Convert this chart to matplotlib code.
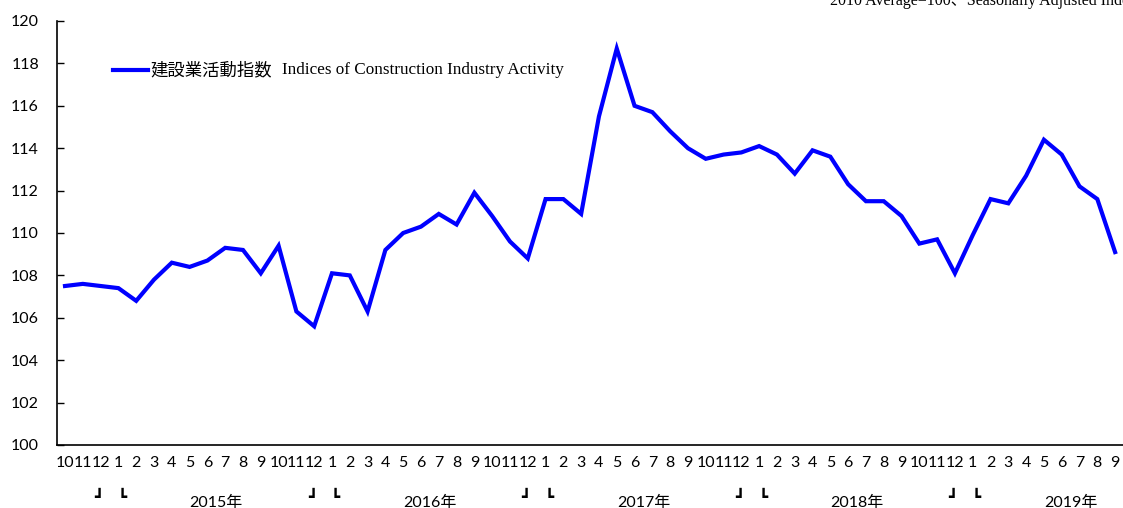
import matplotlib
matplotlib.use("Agg")
import matplotlib.pyplot as plt
from matplotlib.lines import Line2D

values = [107.5, 107.6, 107.5,
          107.4, 106.8, 107.8, 108.6, 108.4, 108.7, 109.3, 109.2, 108.1, 109.4, 106.3, 105.6,
          108.1, 108.0, 106.3, 109.2, 110.0, 110.3, 110.9, 110.4, 111.9, 110.8, 109.6, 108.8,
          111.6, 111.6, 110.9, 115.5, 118.7, 116.0, 115.7, 114.8, 114.0, 113.5, 113.7, 113.8,
          114.1, 113.7, 112.8, 113.9, 113.6, 112.3, 111.5, 111.5, 110.8, 109.5, 109.7, 108.1,
          109.9, 111.6, 111.4, 112.7, 114.4, 113.7, 112.2, 111.6, 109.1]
month_labels = ["10", "11", "12"] + [str(m) for m in range(1, 13)] * 4 + [str(m) for m in range(1, 10)]
years = ["2015年", "2016年", "2017年", "2018年", "2019年"]
legend_jp = "建設業活動指数"
legend_en = "Indices of Construction Industry Activity"
note = "2010 Average=100、Seasonally Adjusted Index"

W, H = 1123, 508
fig = plt.figure(figsize=(W / 100, H / 100), dpi=100)
left, right, top, bottom = 57, 1124, 21, 445
ax = fig.add_axes([left / W, 1 - bottom / H, (right - left) / W, (bottom - top) / H])

x = list(range(len(values)))
ax.plot(x, values, color="#0000FF", lw=3.0, solid_joinstyle="miter")
ax.set_xlim(-0.45, 59.5)
ax.set_ylim(100, 120)
ax.set_yticks(range(100, 121, 2))
ax.set_xticks(x)
ax.set_xticklabels(month_labels)
sans = ["Lato", "Noto Sans CJK JP", "DejaVu Sans"]
for lab in ax.get_xticklabels() + ax.get_yticklabels():
    lab.set_family(sans)
    lab.set_fontsize(11.5)
ax.tick_params(axis="y", direction="in", length=5, width=1, pad=13)
ax.tick_params(axis="x", length=0, pad=8)
for s in ["top", "right"]:
    ax.spines[s].set_visible(False)
for s in ["left", "bottom"]:
    ax.spines[s].set_linewidth(1.2)

# year labels and brackets
trans = ax.get_xaxis_transform()
ybr = -0.124
for i, yr in enumerate(years):
    jan = 3 + 12 * i
    ax.text(jan + 5.5, ybr - 0.012, yr, transform=trans, ha="center", va="center",
            fontsize=11.5, family=sans)
    ax.text(jan - 1.1, ybr, "┛", transform=trans, ha="center", va="center",
            fontsize=11, family=["DejaVu Sans"])
    ax.text(jan + 0.2, ybr, "┗", transform=trans, ha="center", va="center",
            fontsize=11, family=["DejaVu Sans"])

# legend
ly = 1 - (70 - top) / (bottom - top)
ax.add_line(Line2D([(113 - left) / (right - left), (148 - left) / (right - left)], [ly, ly],
                   transform=ax.transAxes, color="#0000FF", lw=3.0))
ax.text((150 - left) / (right - left), ly, legend_jp, transform=ax.transAxes,
        ha="left", va="center", fontsize=12.5, family=["Noto Sans CJK JP"])
ax.text((282 - left) / (right - left), ly, legend_en, transform=ax.transAxes,
        ha="left", va="center", fontsize=12.3, family=["Liberation Serif"])

fig.text(830 / W, 1 - 1 / H, note, ha="left", va="center", fontsize=11.5,
         family=["Liberation Serif", "Noto Sans CJK JP"])

fig.savefig("out.png", dpi=100)
